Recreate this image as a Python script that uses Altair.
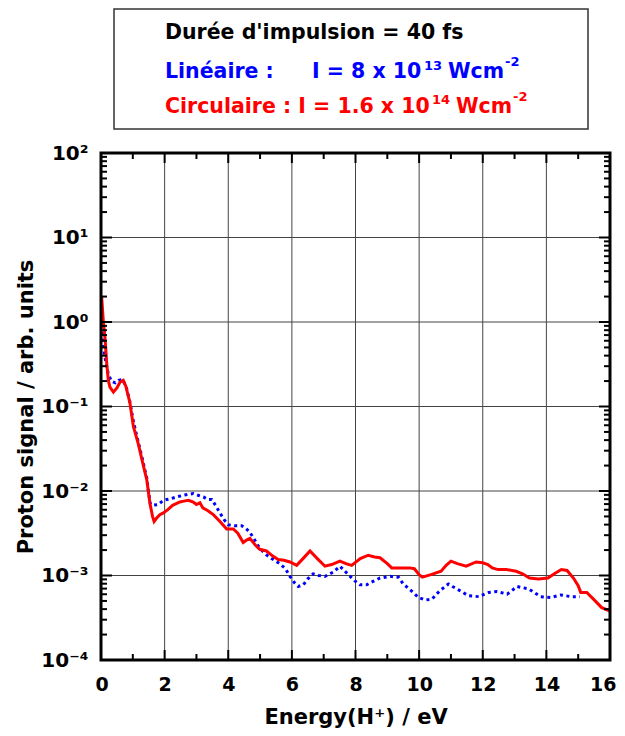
import altair as alt
import pandas as pd

# ---- data (x in eV, y as log10 of the signal) ----
red_x = [0.02, 0.07, 0.13, 0.18, 0.23, 0.28, 0.39, 0.5, 0.60, 0.70, 0.78, 0.86, 0.91, 1.02, 1.17, 1.30,
         1.44, 1.54, 1.62, 1.67, 1.75, 1.85, 1.96, 2.1, 2.25, 2.48, 2.6, 2.75, 2.9, 3.0, 3.11, 3.2,
         3.35, 3.53, 3.74, 3.95, 4.16, 4.3, 4.47, 4.58, 4.68, 4.85, 4.99, 5.2, 5.4, 5.57, 5.75, 5.94,
         6.15, 6.35, 6.57, 6.8, 7.04, 7.25, 7.51, 7.7, 7.88, 8.15, 8.40, 8.6, 8.77, 9.0, 9.14, 9.4,
         9.71, 9.85, 10.0, 10.1, 10.37, 10.69, 10.85, 11.0, 11.2, 11.48, 11.79, 12.0, 12.16, 12.3,
         12.48, 12.75, 13.05, 13.25, 13.47, 13.75, 14.05, 14.25, 14.47, 14.65, 14.85, 15.0, 15.08,
         15.27, 15.48, 15.74, 16.0]
red_lg = [0.30, 0.02, -0.21, -0.49, -0.69, -0.77, -0.83, -0.78, -0.71, -0.69, -0.76, -0.88, -0.96, -1.24,
          -1.44, -1.65, -1.87, -2.15, -2.30, -2.36, -2.32, -2.28, -2.26, -2.22, -2.17, -2.13, -2.12,
          -2.11, -2.13, -2.16, -2.14, -2.20, -2.23, -2.28, -2.36, -2.45, -2.45, -2.50, -2.61, -2.58,
          -2.56, -2.64, -2.69, -2.71, -2.77, -2.81, -2.82, -2.84, -2.88, -2.80, -2.71, -2.80, -2.89,
          -2.87, -2.83, -2.86, -2.88, -2.80, -2.76, -2.78, -2.79, -2.86, -2.91, -2.91, -2.91, -2.92,
          -2.99, -3.02, -2.99, -2.95, -2.88, -2.83, -2.86, -2.89, -2.84, -2.85, -2.87, -2.91, -2.93,
          -2.93, -2.95, -2.98, -3.03, -3.04, -3.03, -2.98, -2.93, -2.94, -3.03, -3.12, -3.20, -3.20,
          -3.28, -3.38, -3.42]

blue_x = [0.02, 0.08, 0.14, 0.22, 0.32, 0.45, 0.55, 0.68, 0.8, 0.9, 1.02, 1.17, 1.30, 1.44, 1.49, 1.55,
          1.6, 1.8, 1.96, 2.2, 2.38, 2.6, 2.9, 3.05, 3.22, 3.35, 3.48, 3.6, 3.74, 3.87, 4.0, 4.2, 4.42,
          4.55, 4.68, 4.8, 4.94, 5.1, 5.25, 5.45, 5.62, 5.8, 5.94, 6.07, 6.2, 6.36, 6.5, 6.67, 6.85,
          7.04, 7.3, 7.51, 7.67, 7.83, 8.0, 8.14, 8.35, 8.55, 8.77, 9.09, 9.35, 9.5, 9.72, 9.98, 10.2,
          10.4, 10.65, 10.92, 11.05, 11.24, 11.55, 11.87, 12.19, 12.45, 12.77, 13.08, 13.45, 13.82,
          14.13, 14.45, 14.77, 15.05]
blue_lg = [-0.12, -0.30, -0.45, -0.60, -0.70, -0.72, -0.69, -0.68, -0.78, -0.93, -1.18, -1.42, -1.62,
           -1.85, -2.00, -2.15, -2.17, -2.16, -2.11, -2.09, -2.07, -2.05, -2.03, -2.05, -2.07, -2.10,
           -2.10, -2.17, -2.26, -2.34, -2.40, -2.41, -2.41, -2.44, -2.49, -2.56, -2.65, -2.72, -2.77,
           -2.82, -2.86, -2.92, -3.01, -3.08, -3.13, -3.11, -3.04, -2.98, -3.00, -3.01, -2.96, -2.89,
           -2.95, -3.01, -3.07, -3.11, -3.11, -3.07, -3.03, -3.01, -3.02, -3.10, -3.17, -3.26, -3.29,
           -3.28, -3.18, -3.10, -3.13, -3.17, -3.24, -3.25, -3.20, -3.19, -3.22, -3.13, -3.16, -3.25,
           -3.26, -3.23, -3.25, -3.25]

x_major = [0, 2, 4, 6, 8, 10, 12, 14, 16]
x_minor = [1, 3, 5, 7, 9, 11, 13, 15]
x_grid = [2, 4, 6, 8, 10, 12, 14]
y_decades = [1e-4, 1e-3, 1e-2, 1e-1, 1e0, 1e1, 1e2]
y_exponents = ["⁻⁴", "⁻³", "⁻²", "⁻¹", "⁰", "¹", "²"]
y_minor = [m * d for d in [1e-4, 1e-3, 1e-2, 1e-1, 1e0, 1e1] for m in range(2, 10)]

W, H = 509, 507
FONT = "DejaVu Sans"

red = pd.DataFrame({"x": red_x, "lg": red_lg})
blue = pd.DataFrame({"x": blue_x, "lg": blue_lg})

xs = alt.Scale(domain=[0, 16], nice=False, zero=False)
ys = alt.Scale(type="log", domain=[1e-4, 1e2], nice=False)

label_expr = " : ".join(
    f"abs(datum.value - {v!r}) < {v * 0.01!r} ? '10{e}'" for v, e in zip(y_decades, y_exponents)
) + " : ''"

base_x = alt.X("x:Q", scale=xs, axis=None)
base_y = alt.Y("y:Q", scale=ys, axis=None)

GRID = "#444"
# grid lines
grid_x = alt.Chart(pd.DataFrame({"x": x_grid})).mark_rule(color=GRID, strokeWidth=1).encode(
    x=base_x, y=alt.value(0), y2=alt.value(H))
grid_y = alt.Chart(pd.DataFrame({"y": y_decades})).mark_rule(color=GRID, strokeWidth=1).encode(
    y=base_y, x=alt.value(0), x2=alt.value(W))

# axes (labels and titles only)
axes = alt.Chart(pd.DataFrame({"x": [0, 16], "y": [1e-4, 1e2]})).mark_point(opacity=0).encode(
    x=alt.X("x:Q", scale=xs, axis=alt.Axis(
        values=x_major, format="d", ticks=False, tickSize=0, domain=False, grid=False,
        labelFontSize=19, labelFontWeight="bold", labelFont=FONT, labelColor="black",
        labelPadding=15, labelFlush=True, labelFlushOffset=6,
        title="Energy(H⁺) / eV", titleFontSize=21, titleFontWeight="bold", titleFont=FONT,
        titleColor="black", titleX=W / 2, titleY=57, titleBaseline="middle")),
    y=alt.Y("y:Q", scale=ys, axis=alt.Axis(
        values=y_decades, labelExpr=label_expr, ticks=False, tickSize=0, domain=False, grid=False,
        labelFontSize=20, labelFontWeight="bold", labelFont=FONT, labelColor="black",
        labelPadding=13, labelFlush=False,
        title="Proton signal / arb. units", titleFontSize=21, titleFontWeight="bold", titleFont=FONT,
        titleColor="black", titleX=-75, titleY=H / 2, titleAngle=270, titleBaseline="middle")),
)

# curves
lin = alt.Chart(blue).transform_calculate(y="pow(10, datum.lg)").mark_line(
    color="#0000ff", strokeWidth=3, strokeDash=[3, 3.5]).encode(x=base_x, y=base_y)
circ = alt.Chart(red).transform_calculate(y="pow(10, datum.lg)").mark_line(
    color="#ff0000", strokeWidth=3).encode(x=base_x, y=base_y)


# inward ticks
def xticks(vals, length):
    d = pd.DataFrame({"x": vals})
    bot = alt.Chart(d).mark_rule(color="black", strokeWidth=2).encode(
        x=base_x, y=alt.value(H), y2=alt.value(H - length))
    top = alt.Chart(d).mark_rule(color="black", strokeWidth=2).encode(
        x=base_x, y=alt.value(0), y2=alt.value(length))
    return [bot, top]


def yticks(vals, length):
    d = pd.DataFrame({"y": vals})
    left = alt.Chart(d).mark_rule(color="black", strokeWidth=2).encode(
        y=base_y, x=alt.value(0), x2=alt.value(length))
    right = alt.Chart(d).mark_rule(color="black", strokeWidth=2).encode(
        y=base_y, x=alt.value(W), x2=alt.value(W - length))
    return [left, right]


one = pd.DataFrame({"a": [0]})
frame = alt.Chart(one).mark_rect(fill=None, stroke="black", strokeWidth=3).encode(
    x=alt.value(0), x2=alt.value(W), y=alt.value(0), y2=alt.value(H))

# legend box
box = alt.Chart(one).mark_rect(fill="white", stroke="#333", strokeWidth=1.5).encode(
    x=alt.value(13), x2=alt.value(487), y=alt.value(-144), y2=alt.value(-24))


def txt(s, x, y, color, size=20.5):
    # x, y given in page pixels, converted to plot coordinates
    return alt.Chart(one).mark_text(
        text=s, align="left", baseline="alphabetic", font=FONT, fontSize=size,
        fontWeight="bold", color=color).encode(x=alt.value(x - 101), y=alt.value(y - 153))


BLUE_T, RED_T = "#0000ff", "#ff0000"
legend = [
    box,
    txt("Durée d'impulsion = 40 fs", 165, 39, "black"),
    txt("Linéaire :", 165, 78, BLUE_T),
    txt("I = 8 x 10", 312, 78, BLUE_T),
    txt("13", 424, 70, BLUE_T, 13),
    txt("Wcm", 448, 78, BLUE_T),
    txt("-2", 505, 66, BLUE_T, 13),
    txt("Circulaire : I = 1.6 x 10", 165, 113, RED_T),
    txt("14", 432, 104, RED_T, 13),
    txt("Wcm", 456, 113, RED_T),
    txt("-2", 513, 101, RED_T, 13),
]

layers = [grid_x, grid_y, axes, lin, circ] + xticks(x_major, 10) + xticks(x_minor, 6) \
    + yticks(y_decades, 11) + yticks(y_minor, 6) + [frame] + legend

chart = alt.layer(*layers).resolve_axis(x="independent", y="independent").properties(
    width=W, height=H,
    autosize=alt.AutoSizeParams(type="none"),
    padding={"left": 93, "top": 145, "right": 7, "bottom": 68},
).configure_view(stroke=None)

chart.save("out.html", embed_options={"renderer": "svg", "actions": False})
